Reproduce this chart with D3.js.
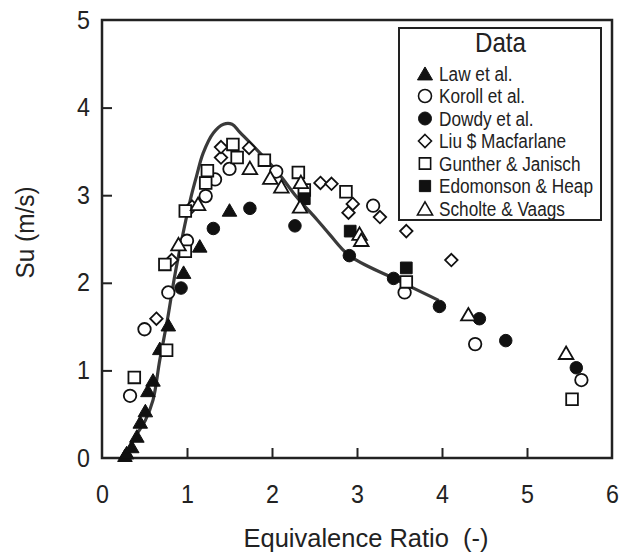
<!DOCTYPE html>
<html>
<head>
<meta charset="utf-8">
<script src="https://cdn.jsdelivr.net/npm/d3@7"></script>
<style>
  html, body { margin: 0; padding: 0; background: #fff; }
  svg { display: block; }
  text { font-family: "Liberation Sans", Arial, sans-serif; fill: #222; white-space: pre; }
</style>
</head>
<body>
<svg id="chart" width="638" height="556"></svg>
<script>
// ---- data ----
const xTicks = [0, 1, 2, 3, 4, 5, 6];
const yTicks = [0, 1, 2, 3, 4, 5];

const law = [[0.27,0.02],[0.29,0.05],[0.35,0.12],[0.41,0.24],[0.45,0.40],[0.51,0.53],[0.54,0.76],[0.60,0.88],[0.68,1.24],[0.78,1.51],[0.96,2.11],[1.15,2.41],[1.50,2.82]];
const koroll = [[0.33,0.71],[0.50,1.47],[0.78,1.89],[1.00,2.48],[1.22,2.99],[1.33,3.18],[1.50,3.30],[2.05,3.27],[3.19,2.88],[3.56,1.89],[4.39,1.30],[5.64,0.89]];
const dowdy = [[0.93,1.94],[1.31,2.62],[1.74,2.85],[2.27,2.65],[2.91,2.31],[3.43,2.05],[3.97,1.73],[4.44,1.59],[4.75,1.34],[5.58,1.03]];
const liu = [[0.64,1.59],[0.82,2.26],[1.06,2.87],[1.40,3.43],[1.40,3.55],[1.73,3.54],[2.57,3.14],[2.70,3.13],[2.90,2.80],[2.95,2.90],[3.27,2.75],[3.58,2.59],[4.11,2.26]];
const gunther = [[0.38,0.92],[0.76,1.23],[0.74,2.21],[0.98,2.36],[0.98,2.82],[1.22,3.14],[1.24,3.28],[1.54,3.58],[1.59,3.43],[1.91,3.40],[2.31,3.26],[2.38,3.06],[2.87,3.04],[3.58,2.01],[5.53,0.67]];
const edomonson = [[2.38,2.96],[2.92,2.59],[3.58,2.17]];
const scholte = [[0.90,2.43],[1.13,2.89],[1.74,3.30],[1.98,3.19],[2.11,3.09],[2.33,2.86],[2.34,3.14],[3.03,2.55],[3.05,2.48],[4.31,1.63],[5.46,1.19]];

const curve = [[0.27,0.0],[0.39,0.24],[0.51,0.43],[0.60,0.66],[0.68,1.12],[0.77,1.58],[0.85,2.05],[0.94,2.50],[1.04,2.95],[1.11,3.21],[1.19,3.48],[1.31,3.71],[1.43,3.81],[1.53,3.81],[1.62,3.72],[1.82,3.52],[2.06,3.27],[2.29,2.98],[2.53,2.72],[2.68,2.55],[2.91,2.31],[3.43,2.05],[3.96,1.80]];

const seriesNames = ["Law et al.", "Koroll et al.", "Dowdy et al.", "Liu $ Macfarlane", "Gunther & Janisch", "Edomonson & Heap", "Scholte & Vaags"];
const seriesShapes = ["triangle", "circle", "circle", "diamond", "square", "square", "triangle"];
const seriesFilled = [true, false, true, false, false, true, false];
const seriesData = [law, koroll, dowdy, liu, gunther, edomonson, scholte];

const xTitle = "Equivalence Ratio  (-)";
const yTitle = "Su (m/s)";
const legendTitle = "Data";

// ---- layout ----
const svg = d3.select("#chart");
const L = 102, R = 612, T = 20, B = 458;
const x = d3.scaleLinear().domain([0, 6]).range([L, R]);
const y = d3.scaleLinear().domain([0, 5]).range([B, T]);
const ink = "#222";

function squeeze(sel, ratio) {
  sel.each(function () {
    const w = this.getComputedTextLength();
    d3.select(this).attr("textLength", w * ratio).attr("lengthAdjust", "spacingAndGlyphs");
  });
}

function shapePath(shape, s) {
  const p = d3.path();
  if (shape === "circle") {
    p.arc(0, 0, s * 0.5, 0, 2 * Math.PI);
  } else if (shape === "square") {
    const h = s * 0.45;
    p.rect(-h, -h, 2 * h, 2 * h);
  } else if (shape === "diamond") {
    const h = s * 0.5;
    p.moveTo(0, -h); p.lineTo(h, 0); p.lineTo(0, h); p.lineTo(-h, 0); p.closePath();
  } else if (shape === "triangle") {
    const h = s * 0.52;
    p.moveTo(0, -h * 1.0); p.lineTo(h, h * 0.72); p.lineTo(-h, h * 0.72); p.closePath();
  }
  return p.toString();
}

// axes (ticks inward, left and bottom only)
const xAxis = d3.axisBottom(x).tickValues(xTicks).tickSize(-10).tickPadding(27).tickFormat(d3.format("d"));
const yAxis = d3.axisLeft(y).tickValues(yTicks).tickSize(-10).tickPadding(12).tickFormat(d3.format("d"));

const gx = svg.append("g").attr("transform", `translate(0,${B})`).call(xAxis);
const gy = svg.append("g").attr("transform", `translate(${L},0)`).call(yAxis);
[gx, gy].forEach(g => {
  g.select(".domain").remove();
  g.attr("font-family", null).attr("font-size", null);
  g.selectAll(".tick line").attr("stroke", ink).attr("stroke-width", 2);
  g.selectAll(".tick text").style("font-size", "25px").attr("fill", ink);
  squeeze(g.selectAll(".tick text"), 0.93);
});
gx.selectAll(".tick line").filter(d => d === 0 || d === 6).remove();
gy.selectAll(".tick line").filter(d => d === 0 || d === 5).remove();
gx.selectAll(".tick text").attr("dy", "0.72em");

// frame
svg.append("rect").attr("x", L).attr("y", T).attr("width", R - L).attr("height", B - T)
  .attr("fill", "none").attr("stroke", ink).attr("stroke-width", 2.5);

// fitted curve
const line = d3.line().x(d => x(d[0])).y(d => y(d[1])).curve(d3.curveCatmullRom.alpha(0.5));
svg.append("path").datum(curve).attr("d", line)
  .attr("fill", "none").attr("stroke", "#3a3a3a").attr("stroke-width", 3.2).attr("stroke-linejoin", "round");

// markers
seriesData.forEach((data, i) => {
  const shape = seriesShapes[i];
  const filled = seriesFilled[i];
  const size = shape === "circle" ? 12.5 : shape === "square" ? 13 : shape === "diamond" ? 12.5 : 14;
  svg.append("g").selectAll("path").data(data).enter().append("path")
    .attr("transform", d => `translate(${x(d[0])},${y(d[1])})`)
    .attr("d", shapePath(shape, size))
    .attr("fill", filled ? "#111" : "#fff")
    .attr("stroke", "#111")
    .attr("stroke-width", filled ? 1 : 1.8);
});

// axis titles
svg.append("text").attr("x", 366).attr("y", 547).attr("text-anchor", "middle")
  .attr("xml:space", "preserve")
  .style("font-size", "26px").text(xTitle)
  .attr("textLength", 245).attr("lengthAdjust", "spacingAndGlyphs");
svg.append("text").attr("transform", "translate(34,232.5) rotate(-90)").attr("text-anchor", "middle")
  .style("font-size", "25px").text(yTitle)
  .attr("textLength", 92).attr("lengthAdjust", "spacingAndGlyphs");

// legend
const lg = svg.append("g");
lg.append("rect").attr("x", 399).attr("y", 28).attr("width", 202).attr("height", 192)
  .attr("fill", "#fff").attr("stroke", ink).attr("stroke-width", 2);
lg.append("text").attr("x", 500.5).attr("y", 51.7).attr("text-anchor", "middle")
  .style("font-size", "28px").text(legendTitle)
  .attr("textLength", 51).attr("lengthAdjust", "spacingAndGlyphs");
seriesNames.forEach((name, i) => {
  const cy = 73.5 + i * 22.5;
  const shape = seriesShapes[i];
  const size = shape === "circle" ? 13 : shape === "square" ? 12.5 : shape === "diamond" ? 13 : 14.5;
  lg.append("path").attr("transform", `translate(425,${cy + (shape === "triangle" ? 1 : 0)})`)
    .attr("d", shapePath(shape, size))
    .attr("fill", seriesFilled[i] ? "#111" : "#fff")
    .attr("stroke", "#111").attr("stroke-width", seriesFilled[i] ? 1 : 1.6);
  const t = lg.append("text").attr("x", 439).attr("y", cy + 7)
    .style("font-size", "20px").text(name);
  squeeze(t, 0.86);
});
</script>
</body>
</html>
